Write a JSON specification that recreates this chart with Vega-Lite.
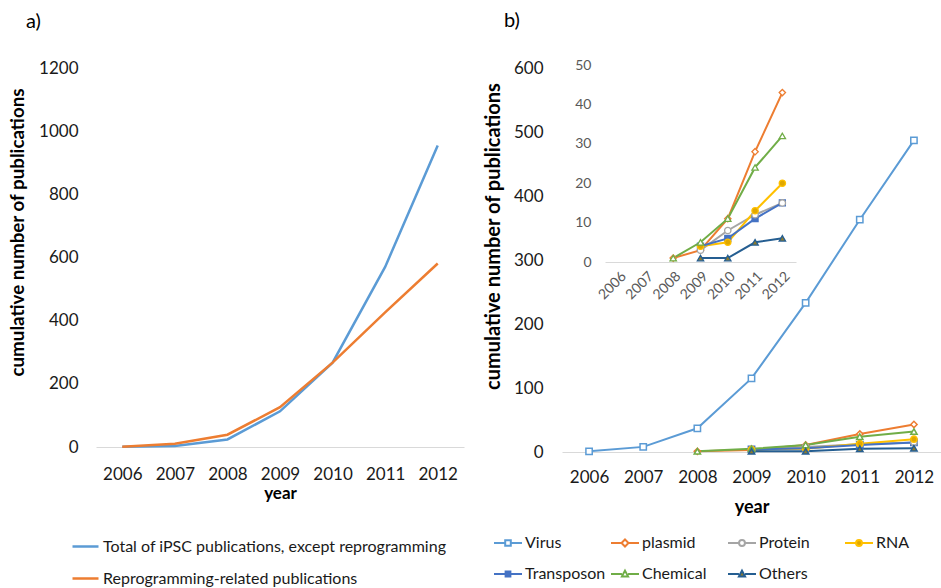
{
  "$schema": "https://vega.github.io/schema/vega-lite/v6.json",
  "padding": {"left": 8, "top": 11, "right": 0, "bottom": 0},
  "background": "white",
  "config": {
    "font": "Lato",
    "view": {"stroke": null},
    "axis": {"labelFont": "Lato", "labelFontSize": 17, "labelColor": "#1a1a1a", "titleFont": "Lato", "titleFontWeight": "bold", "titleFontSize": 17, "titleColor": "#000000", "ticks": false, "grid": false, "domain": false},
    "axisX": {"domain": true, "domainColor": "#D9D9D9", "domainWidth": 1, "labelAngle": 0},
    "legend": {"labelFont": "Lato", "labelFontSize": 16, "labelColor": "#1a1a1a", "labelLimit": 600, "title": null},
    "title": {"font": "Lato", "fontSize": 20, "fontWeight": "normal", "color": "#000000"}
  },
  "hconcat": [
    {
      "title": {"text": "a)", "anchor": "start", "frame": "group", "dx": -70, "offset": 27},
      "width": 368,
      "height": 379,
      "data": {"values": [
        {"year": 2006, "series": "Total of iPSC publications, except reprogramming", "value": 1},
        {"year": 2007, "series": "Total of iPSC publications, except reprogramming", "value": 3},
        {"year": 2008, "series": "Total of iPSC publications, except reprogramming", "value": 24},
        {"year": 2009, "series": "Total of iPSC publications, except reprogramming", "value": 113},
        {"year": 2010, "series": "Total of iPSC publications, except reprogramming", "value": 267},
        {"year": 2011, "series": "Total of iPSC publications, except reprogramming", "value": 570},
        {"year": 2012, "series": "Total of iPSC publications, except reprogramming", "value": 955},
        {"year": 2006, "series": "Reprogramming-related publications", "value": 1},
        {"year": 2007, "series": "Reprogramming-related publications", "value": 10},
        {"year": 2008, "series": "Reprogramming-related publications", "value": 39},
        {"year": 2009, "series": "Reprogramming-related publications", "value": 126},
        {"year": 2010, "series": "Reprogramming-related publications", "value": 267},
        {"year": 2011, "series": "Reprogramming-related publications", "value": 426},
        {"year": 2012, "series": "Reprogramming-related publications", "value": 581}
      ]},
      "mark": {"type": "line", "strokeWidth": 2.5},
      "encoding": {
        "x": {"field": "year", "type": "ordinal", "scale": {"type": "point", "padding": 0.5, "domain": [2006, 2007, 2008, 2009, 2010, 2011, 2012]}, "axis": {"title": "year", "titlePadding": 3, "labelPadding": 19}},
        "y": {"field": "value", "type": "quantitative", "scale": {"domain": [0, 1200], "nice": false}, "axis": {"title": "cumulative number of publications", "format": "d", "values": [0, 200, 400, 600, 800, 1000, 1200], "labelPadding": 18, "titlePadding": 11, "titleY": 164, "titleFontSize": 18.8}},
        "stroke": {"field": "series", "type": "nominal", "scale": {"domain": ["Total of iPSC publications, except reprogramming", "Reprogramming-related publications"], "range": ["#5B9BD5", "#ED7D31"]},
          "legend": {"orient": "none", "legendX": -25, "legendY": 464, "direction": "vertical", "symbolType": "stroke", "symbolSize": 676, "symbolStrokeWidth": 2.5, "labelOffset": 3, "rowPadding": 9, "labelFontSize": 16}}
      }
    },
    {
      "title": {"text": "b)", "anchor": "start", "frame": "group", "dx": -58, "offset": 27},
      "width": 379,
      "height": 384,
      "data": {"values": [
        {"year": 2006, "method": "Virus", "value": 1},
        {"year": 2007, "method": "Virus", "value": 8},
        {"year": 2008, "method": "Virus", "value": 37},
        {"year": 2009, "method": "Virus", "value": 115},
        {"year": 2010, "method": "Virus", "value": 233},
        {"year": 2011, "method": "Virus", "value": 363},
        {"year": 2012, "method": "Virus", "value": 487},
        {"year": 2008, "method": "plasmid", "value": 1},
        {"year": 2009, "method": "plasmid", "value": 3},
        {"year": 2010, "method": "plasmid", "value": 11},
        {"year": 2011, "method": "plasmid", "value": 28},
        {"year": 2012, "method": "plasmid", "value": 43},
        {"year": 2009, "method": "Protein", "value": 3},
        {"year": 2010, "method": "Protein", "value": 8},
        {"year": 2011, "method": "Protein", "value": 12},
        {"year": 2012, "method": "Protein", "value": 15},
        {"year": 2009, "method": "RNA", "value": 4},
        {"year": 2010, "method": "RNA", "value": 5},
        {"year": 2011, "method": "RNA", "value": 13},
        {"year": 2012, "method": "RNA", "value": 20},
        {"year": 2009, "method": "Transposon", "value": 4},
        {"year": 2010, "method": "Transposon", "value": 6},
        {"year": 2011, "method": "Transposon", "value": 11},
        {"year": 2012, "method": "Transposon", "value": 15},
        {"year": 2008, "method": "Chemical", "value": 1},
        {"year": 2009, "method": "Chemical", "value": 5},
        {"year": 2010, "method": "Chemical", "value": 11},
        {"year": 2011, "method": "Chemical", "value": 24},
        {"year": 2012, "method": "Chemical", "value": 32},
        {"year": 2009, "method": "Others", "value": 1},
        {"year": 2010, "method": "Others", "value": 1},
        {"year": 2011, "method": "Others", "value": 5},
        {"year": 2012, "method": "Others", "value": 6}
      ]},
      "layer": [
        {
          "encoding": {
            "x": {"field": "year", "type": "ordinal", "scale": {"type": "point", "padding": 0.5, "domain": [2006, 2007, 2008, 2009, 2010, 2011, 2012]}, "axis": {"title": "year", "titlePadding": 13, "labelPadding": 17, "titleFontSize": 18}},
            "y": {"field": "value", "type": "quantitative", "scale": {"domain": [0, 600], "nice": false}, "axis": {"title": "cumulative number of publications", "values": [0, 100, 200, 300, 400, 500, 600], "labelPadding": 19, "titlePadding": 10, "titleY": 168, "titleFontSize": 20}}
          },
          "layer": [
            {
              "mark": {"type": "point", "opacity": 0, "size": 1},
              "encoding": {
                "stroke": {"field": "method", "type": "nominal", "scale": {"domain": ["Virus", "plasmid", "Protein", "RNA", "Transposon", "Chemical", "Others"], "range": ["#5B9BD5", "#ED7D31", "#A5A5A5", "#FFC000", "#4472C4", "#70AD47", "#255E91"]},
                  "legend": {"orient": "none", "legendX": -69, "legendY": 460, "direction": "horizontal", "columns": 4, "gridAlign": "all", "columnPadding": 1, "rowPadding": 8, "symbolSize": 784, "symbolStrokeWidth": 2, "labelOffset": 2, "symbolOpacity": 1}},
                "fill": {"field": "method", "type": "nominal", "scale": {"domain": ["Virus", "plasmid", "Protein", "RNA", "Transposon", "Chemical", "Others"], "range": ["#ffffff", "#ffffff", "#ffffff", "#E0A800", "#4472C4", "#ffffff", "#8C7A2E"]},
                  "legend": {"orient": "none", "legendX": -69, "legendY": 460, "direction": "horizontal", "columns": 4, "gridAlign": "all", "columnPadding": 1, "rowPadding": 8, "symbolSize": 784, "symbolStrokeWidth": 2, "labelOffset": 2, "symbolOpacity": 1}},
                "shape": {"field": "method", "type": "nominal",
                  "scale": {"domain": ["Virus", "plasmid", "Protein", "RNA", "Transposon", "Chemical", "Others"],
                    "range": ["M-1,0H-0.22M0.22,0H1M-0.2,-0.2H0.2V0.2H-0.2Z", "M-1,0H-0.25M0.25,0H1M0,-0.25L0.25,0L0,0.25L-0.25,0Z", "M-1,0H-0.22M0.22,0H1M-0.21,0A0.21,0.21 0 1,0 0.21,0A0.21,0.21 0 1,0 -0.21,0Z", "M-1,0H-0.22M0.22,0H1M-0.21,0A0.21,0.21 0 1,0 0.21,0A0.21,0.21 0 1,0 -0.21,0Z", "M-1,0H-0.2M0.2,0H1M-0.17,-0.17H0.17V0.17H-0.17Z", "M-1,0H-0.22M0.22,0H1M0,-0.24L0.22,0.17H-0.22Z", "M-1,0H-0.22M0.22,0H1M0,-0.24L0.22,0.17H-0.22Z"]},
                  "legend": {"orient": "none", "legendX": -69, "legendY": 460, "direction": "horizontal", "columns": 4, "gridAlign": "all", "columnPadding": 1, "rowPadding": 8, "symbolSize": 784, "symbolStrokeWidth": 2, "labelOffset": 2, "symbolOpacity": 1}}
              }
            },
            {"mark": {"type": "line", "strokeWidth": 2}, "encoding": {"stroke": {"field": "method", "type": "nominal", "legend": null}}},
            {"transform": [{"filter": {"field": "method", "oneOf": ["Virus", "Transposon"]}}], "mark": {"type": "point", "shape": "square", "size": 40, "strokeWidth": 1.5, "opacity": 1}, "encoding": {"stroke": {"field": "method", "type": "nominal", "legend": null}, "fill": {"field": "method", "type": "nominal", "legend": null}}},
            {"transform": [{"filter": {"field": "method", "oneOf": ["plasmid"]}}], "mark": {"type": "point", "shape": "diamond", "size": 40, "strokeWidth": 1.5, "opacity": 1}, "encoding": {"stroke": {"field": "method", "type": "nominal", "legend": null}, "fill": {"field": "method", "type": "nominal", "legend": null}}},
            {"transform": [{"filter": {"field": "method", "oneOf": ["Protein", "RNA"]}}], "mark": {"type": "point", "shape": "circle", "size": 40, "strokeWidth": 1.5, "opacity": 1}, "encoding": {"stroke": {"field": "method", "type": "nominal", "legend": null}, "fill": {"field": "method", "type": "nominal", "legend": null}}},
            {"transform": [{"filter": {"field": "method", "oneOf": ["Chemical", "Others"]}}], "mark": {"type": "point", "shape": "triangle-up", "size": 40, "strokeWidth": 1.5, "opacity": 1}, "encoding": {"stroke": {"field": "method", "type": "nominal", "legend": null}, "fill": {"field": "method", "type": "nominal", "legend": null}}}
          ]
        },
        {
          "transform": [{"filter": "datum.method !== 'Virus'"}],
          "encoding": {
            "x": {"field": "year", "type": "ordinal", "scale": {"type": "point", "padding": 0.5, "domain": [2006, 2007, 2008, 2009, 2010, 2011, 2012], "range": [43, 234]}, "axis": {"orient": "bottom", "offset": -190, "title": null, "labelAngle": -45, "labelColor": "#595959", "labelFontSize": 14, "labelPadding": 7, "domainColor": "#D9D9D9"}},
            "y": {"field": "value", "type": "quantitative", "scale": {"domain": [0, 50], "nice": false, "range": [194, -3]}, "axis": {"orient": "left", "offset": -43, "title": null, "values": [0, 10, 20, 30, 40, 50], "labelColor": "#595959", "labelFontSize": 14, "labelPadding": 14}},
            "stroke": {"field": "method", "type": "nominal", "legend": null}
          },
          "layer": [
            {"mark": {"type": "line", "strokeWidth": 2}},
            {"transform": [{"filter": {"field": "method", "oneOf": ["Virus", "Transposon"]}}], "mark": {"type": "point", "shape": "square", "size": 36, "strokeWidth": 1.3, "opacity": 1}, "encoding": {"fill": {"field": "method", "type": "nominal", "legend": null}}},
            {"transform": [{"filter": {"field": "method", "oneOf": ["plasmid"]}}], "mark": {"type": "point", "shape": "diamond", "size": 40, "strokeWidth": 1.3, "opacity": 1}, "encoding": {"fill": {"field": "method", "type": "nominal", "legend": null}}},
            {"transform": [{"filter": {"field": "method", "oneOf": ["Protein", "RNA"]}}], "mark": {"type": "point", "shape": "circle", "size": 40, "strokeWidth": 1.3, "opacity": 1}, "encoding": {"fill": {"field": "method", "type": "nominal", "legend": null}}},
            {"transform": [{"filter": {"field": "method", "oneOf": ["Chemical", "Others"]}}], "mark": {"type": "point", "shape": "triangle-up", "size": 40, "strokeWidth": 1.3, "opacity": 1}, "encoding": {"fill": {"field": "method", "type": "nominal", "legend": null}}}
          ]
        }
      ],
      "resolve": {"scale": {"x": "independent", "y": "independent"}, "axis": {"x": "independent", "y": "independent"}}
    }
  ],
  "spacing": 19,
  "resolve": {"scale": {"stroke": "independent", "fill": "independent", "shape": "independent"}, "legend": {"stroke": "independent", "fill": "independent", "shape": "independent"}}
}
